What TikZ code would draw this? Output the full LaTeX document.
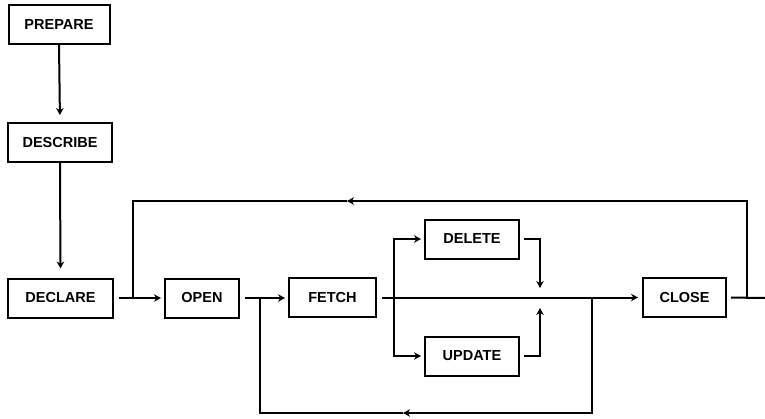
\documentclass[tikz,border=0pt]{standalone}
\usepackage{fontspec}
\setmainfont{Liberation Sans}
\usetikzlibrary{arrows.meta}
\begin{document}
\begin{tikzpicture}[x=1pt,y=-1pt,
  box/.style={draw,line width=2pt,inner sep=0pt,minimum height=39pt,font=\fontsize{14.5}{16}\selectfont\bfseries},
  conn/.style={line width=2pt},
  arr/.style={conn,-{Stealth[length=7pt,width=7.5pt]}}]
\useasboundingbox (0,0) rectangle (765,418);
\node[box,minimum width=101pt] (prepare) at (59,24.5) {PREPARE};
\node[box,minimum width=104pt] (describe) at (60,142.5) {DESCRIBE};
\node[box,minimum width=105pt] (declare) at (60.5,298) {DECLARE};
\node[box,minimum width=74pt] (open) at (202,298) {OPEN};
\node[box,minimum width=87pt] (fetch) at (332.5,297.5) {FETCH};
\node[box,minimum width=94pt] (delete) at (472,239) {DELETE};
\node[box,minimum width=94pt] (update) at (472,356) {UPDATE};
\node[box,minimum width=83pt] (close) at (684.5,297.5) {CLOSE};
% coordinates
\coordinate (j1) at (133,298);
\coordinate (t1) at (133,201);
\coordinate (tm) at (347,201);
\coordinate (t2) at (747,201);
\coordinate (j3) at (747,298);
\coordinate (endr) at (765,298);
\coordinate (j2) at (260,298);
\coordinate (b1) at (260,413);
\coordinate (bm) at (403,413);
\coordinate (b2) at (592,413);
\coordinate (j4) at (592,298);
\coordinate (br) at (394,298);
\coordinate (m1) at (540,288);
\coordinate (m2) at (540,308);
% vertical chain
\draw[arr,shorten >=7pt] (prepare.south) -- (describe.north);
\draw[arr,shorten >=9pt] (describe.south) -- (declare.north);
% horizontal chain
\draw[arr,shorten <=5pt,shorten >=3pt] (declare.east) -- (open.west);
\draw[arr,shorten <=5pt,shorten >=3pt] (open.east) -- (fetch.west |- open.east);
\draw[arr,shorten <=5pt,shorten >=4pt] (fetch.east) -- (close.west);
\draw[conn,shorten <=4pt] (close.east) -- (endr);
% top loop
\draw[arr] (j3) -- (t2) -- (tm);
\draw[conn] (tm) -- (t1) -- (j1);
% bottom loop
\draw[arr] (j4) -- (b2) -- (bm);
\draw[conn] (bm) -- (b1) -- (j2);
% branches
\draw[arr,shorten >=3pt] (br) |- (delete.west);
\draw[arr,shorten >=3pt] (br) |- (update.west);
\draw[arr,shorten <=4pt] (delete.east) -| (m1);
\draw[arr,shorten <=4pt] (update.east) -| (m2);
\end{tikzpicture}
\end{document}
